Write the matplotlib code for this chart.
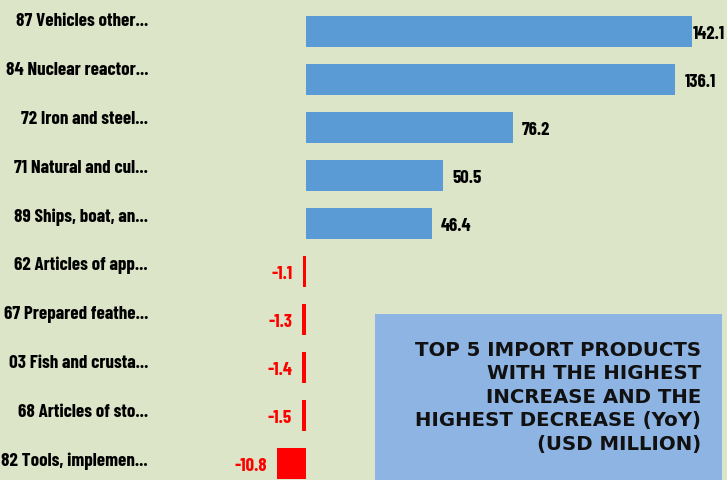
import matplotlib
matplotlib.use("Agg")
import matplotlib.pyplot as plt
from matplotlib import font_manager
from matplotlib.patches import Rectangle
from matplotlib.transforms import blended_transform_factory

# Top 5 increases and top 5 decreases of import products (YoY, USD million)
products = [
    "87 Vehicles other...",
    "84 Nuclear reactor...",
    "72 Iron and steel...",
    "71 Natural and cul...",
    "89 Ships, boat, an...",
    "62 Articles of app...",
    "67 Prepared feathe...",
    "03 Fish and crusta...",
    "68 Articles of sto...",
    "82 Tools, implemen...",
]
changes = [142.1, 136.1, 76.2, 50.5, 46.4, -1.1, -1.3, -1.4, -1.5, -10.8]
value_labels = ["142.1", "136.1", "76.2", "50.5", "46.4", "-1.1", "-1.3", "-1.4", "-1.5", "-10.8"]
title = "TOP 5 IMPORT PRODUCTS\nWITH THE HIGHEST\nINCREASE AND THE\nHIGHEST DECREASE (YoY)\n(USD MILLION)"

# pick a narrow font if there is one, the original uses a squeezed Calibri
installed = {f.name for f in font_manager.fontManager.ttflist}
narrow = "DejaVu Sans"
for name in ["Barlow Condensed", "Roboto Condensed", "Liberation Sans Narrow"]:
    if name in installed:
        narrow = name
        break

fig = plt.figure(figsize=(7.27, 4.8), dpi=100)
fig.patch.set_facecolor("#dce5c7")
ax = fig.add_axes([0, 0, 1, 1])
ax.set_facecolor("none")
ax.axis("off")

ax.set_xlim(-112.75, 155.1)
ax.set_ylim(9.344, -0.656)

colors = ["#5b9bd5" if v > 0 else "#ff0000" for v in changes]
ypos = list(range(len(changes)))
ax.barh(ypos, changes, height=0.65, color=colors)

# category labels on the left
trans = blended_transform_factory(ax.transAxes, ax.transData)
for i, name in enumerate(products):
    ax.text(148 / 727, i * 1.016 - 0.2, name, transform=trans, ha="right", va="center",
            fontsize=13.7, fontweight="bold", family=narrow, color="black")

# value labels
for i, (v, lab) in enumerate(zip(changes, value_labels)):
    if v > 0:
        if v == max(changes):
            # no room right of the longest bar, keep it inside the picture
            ax.text(0.998, i + 0.06, lab, transform=trans, ha="right", va="center",
                    fontsize=13.5, fontweight="bold", family=narrow, color="black")
        else:
            ax.annotate(lab, (v, i + 0.06), xytext=(9, 0), textcoords="offset pixels",
                        ha="left", va="center", fontsize=13.5, fontweight="bold",
                        family=narrow, color="black")
    else:
        ax.annotate(lab, (v, i + 0.06), xytext=(-10, 0), textcoords="offset pixels",
                    ha="right", va="center", fontsize=13.5, fontweight="bold",
                    family=narrow, color="#ff0000")

# title box bottom right
ax.add_patch(Rectangle((375 / 727, -0.02), 347 / 727, 0.3658, transform=ax.transAxes,
                       facecolor="#8eb4e3", edgecolor="none"))
ax.text(701 / 727, 0.29, title, transform=ax.transAxes, ha="right", va="top", ma="right",
        fontsize=14.2, fontweight="bold", linespacing=1.3, color="#111111")

fig.savefig("out.png", dpi=100, facecolor=fig.get_facecolor())
